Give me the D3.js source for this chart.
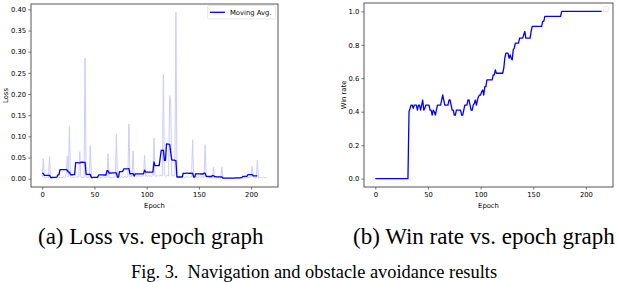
<!DOCTYPE html>
<html><head><meta charset="utf-8">
<script src="https://cdn.jsdelivr.net/npm/d3@7"></script>
<style>
html,body{margin:0;padding:0;background:#fff;}
svg{display:block;}
.tick text{font-family:"DejaVu Sans";font-size:6.8px;fill:#000;}
</style></head>
<body><svg id="c" width="618" height="282"></svg>
<script>
// ---------- data ----------
const lossEpochs = d3.range(216);
const lossValues = [
0.004,0.047,0.003,0.002,0.004,0.003,0.002,0.053,0.003,0.002,
0.003,0.002,0.004,0.003,0.002,0.003,0.004,0.002,0.003,0.002,
0.004,0.003,0.005,0.012,0.053,0.004,0.123,0.006,0.002,0.003,
0.003,0.002,0.004,0.003,0.005,0.004,0.064,0.003,0.002,0.004,
0.003,0.285,0.004,0.003,0.002,0.004,0.078,0.003,0.002,0.003,
0.002,0.003,0.004,0.002,0.003,0.004,0.002,0.003,0.005,0.003,
0.004,0.003,0.002,0.059,0.003,0.004,0.002,0.003,0.004,0.003,
0.004,0.105,0.003,0.002,0.004,0.003,0.005,0.004,0.003,0.006,
0.004,0.003,0.005,0.129,0.004,0.006,0.005,0.065,0.004,0.006,
0.007,0.005,0.008,0.006,0.005,0.007,0.006,0.008,0.055,0.006,
0.007,0.005,0.008,0.006,0.007,0.005,0.008,0.096,0.006,0.007,
0.005,0.008,0.006,0.007,0.009,0.006,0.246,0.008,0.006,0.007,
0.009,0.006,0.196,0.180,0.007,0.008,0.006,0.009,0.393,0.005,
0.004,0.003,0.005,0.004,0.003,0.005,0.004,0.003,0.004,0.005,
0.004,0.003,0.005,0.004,0.092,0.003,0.004,0.005,0.004,0.003,
0.005,0.004,0.003,0.005,0.004,0.003,0.080,0.004,0.003,0.004,
0.003,0.002,0.004,0.003,0.027,0.002,0.003,0.002,0.003,0.002,
0.003,0.002,0.027,0.002,0.001,0.002,0.001,0.002,0.001,0.002,
0.001,0.002,0.001,0.002,0.001,0.002,0.001,0.002,0.001,0.002,
0.001,0.002,0.001,0.002,0.003,0.002,0.003,0.002,0.003,0.004,
0.003,0.029,0.004,0.003,0.002,0.003,0.044,0.002,0.003,0.002,
0.003,0.002,0.004,0.002,0.003,0.002];
const movingWindow = 10;
const lossYTicks = [0.00,0.05,0.10,0.15,0.20,0.25,0.30,0.35,0.40];
const epochTicks = [0,50,100,150,200];

const winEpochs = d3.range(216);
const winValues = [
0,0,0,0,0,0,0,0,0,0, 0,0,0,0,0,0,0,0,0,0, 0,0,0,0,0,0,0,0,0,0, 0,0,
0.40,0.42,0.44,0.44,0.42,0.44,0.44,0.44,0.41,0.44,
0.44,0.41,0.44,0.47,0.41,0.42,0.44,0.44,0.44,0.44,
0.41,0.41,0.38,0.41,0.40,0.38,0.41,0.44,0.44,0.44,
0.44,0.47,0.50,0.47,0.44,0.44,0.44,0.44,0.47,0.47,
0.44,0.41,0.41,0.38,0.38,0.41,0.41,0.41,0.41,0.41,
0.38,0.38,0.41,0.44,0.44,0.44,0.47,0.47,0.44,0.41,
0.41,0.44,0.45,0.47,0.44,0.47,0.49,0.50,
0.50,0.52,0.53,0.50,0.55,0.55,0.59,0.59,0.59,0.59,
0.59,0.59,0.62,0.62,0.65,0.63,0.63,0.63,0.63,0.63,
0.63,0.63,0.66,0.72,0.75,0.75,0.75,0.72,0.74,0.72,
0.71,0.77,0.78,0.81,0.81,0.81,0.81,0.84,0.84,0.84,
0.84,0.86,0.88,0.84,0.84,0.84,0.84,0.84,0.88,0.91,
0.91,0.91,0.91,0.91,0.91,0.91,0.91,0.91,0.91,0.94,
0.94,0.97,0.97,0.97,0.97,0.97,0.97,0.97,0.97,0.97,
0.97,0.97,0.97,0.97,0.97,0.97,0.97,1.0,1.0,1.0,
1.0,1.0,1.0,1.0,1.0,1.0,1.0,1.0,1.0,1.0,
1.0,1.0,1.0,1.0,1.0,1.0,1.0,1.0,1.0,1.0,
1.0,1.0,1.0,1.0,1.0,1.0,1.0,1.0,1.0,1.0,
1.0,1.0,1.0,1.0,1.0,1.0,1.0,1.0,1.0];
const winYTicks = [0.0,0.2,0.4,0.6,0.8,1.0];
const legendLabels = ["Moving Avg."];
const captions = ["(a) Loss vs. epoch graph","(b) Win rate vs. epoch graph","Fig. 3.  Navigation and obstacle avoidance results"];

// ---------- drawing ----------
const svg = d3.select("#c");
const fontSans = "DejaVu Sans";

function pad(ext){const r=ext[1]-ext[0];return [ext[0]-0.05*r, ext[1]+0.05*r];}

function drawAxes(g, x, y, xTicks, yTicks, yFmt, box){
  g.append("g").attr("transform",`translate(0,${box.b})`)
    .call(d3.axisBottom(x).tickValues(xTicks).tickSize(2.6).tickPadding(2.2).tickFormat(d3.format("d")))
    .call(a=>a.select(".domain").remove())
    .call(a=>a.selectAll("line").attr("stroke","#222").attr("stroke-width",0.6));
  g.append("g").attr("transform",`translate(${box.l},0)`)
    .call(d3.axisLeft(y).tickValues(yTicks).tickSize(2.6).tickPadding(2.2).tickFormat(d3.format(yFmt)))
    .call(a=>a.select(".domain").remove())
    .call(a=>a.selectAll("line").attr("stroke","#222").attr("stroke-width",0.6));
  g.append("rect").attr("x",box.l).attr("y",box.t).attr("width",box.r-box.l).attr("height",box.b-box.t)
    .attr("fill","none").attr("stroke","#444").attr("stroke-width",0.9);
}

// Left: loss
{
  const box={l:31,r:278,t:4,b:187};
  const x=d3.scaleLinear().domain(pad([0,215])).range([box.l,box.r]);
  const y=d3.scaleLinear().domain(pad([0,d3.max(lossValues)])).range([box.b,box.t]);
  const g=svg.append("g");
  svg.append("clipPath").attr("id","cl1").append("rect")
    .attr("x",box.l).attr("y",box.t).attr("width",box.r-box.l).attr("height",box.b-box.t);
  const line=d3.line().x(d=>x(d[0])).y(d=>y(d[1]));
  g.append("path").datum(lossEpochs.map((e,i)=>[e,lossValues[i]]))
    .attr("d",line).attr("fill","none").attr("stroke","#ccccff").attr("stroke-width",1).attr("clip-path","url(#cl1)");
  const ma=[];
  for(let i=0;i+movingWindow<=lossValues.length;i++){
    ma.push([lossEpochs[i], d3.mean(lossValues.slice(i,i+movingWindow))]);
  }
  g.append("path").datum(ma).attr("d",line).attr("fill","none").attr("stroke","#0000ff").attr("stroke-width",1.3)
    .attr("stroke-linejoin","round");
  drawAxes(g,x,y,epochTicks,lossYTicks,".2f",box);
  g.append("text").attr("x",(box.l+box.r)/2).attr("y",208).attr("text-anchor","middle")
    .attr("font-family",fontSans).attr("font-size",6.8).text("Epoch");
  g.append("text").attr("transform",`translate(7.5,${(box.t+box.b)/2}) rotate(-90)`).attr("text-anchor","middle")
    .attr("font-family",fontSans).attr("font-size",6.8).text("Loss");
  // legend
  const lg=g.append("g");
  lg.append("rect").attr("x",207.5).attr("y",5.5).attr("width",68).attr("height",13.5).attr("rx",1.5)
    .attr("fill","#fff").attr("fill-opacity",0.8).attr("stroke","#d9d9d9").attr("stroke-width",0.6);
  lg.append("line").attr("x1",210).attr("x2",225).attr("y1",12.3).attr("y2",12.3).attr("stroke","#0000ff").attr("stroke-width",1.3);
  lg.append("text").attr("x",230).attr("y",14.6).attr("font-family",fontSans).attr("font-size",6.8).text(legendLabels[0]);
}

// Right: win rate
{
  const box={l:364,r:613,t:3,b:187};
  const x=d3.scaleLinear().domain(pad([0,215])).range([box.l,box.r]);
  const y=d3.scaleLinear().domain(pad([0,1])).range([box.b,box.t]);
  const g=svg.append("g");
  const line=d3.line().x(d=>x(d[0])).y(d=>y(d[1]));
  g.append("path").datum(winEpochs.map((e,i)=>[e,winValues[i]]))
    .attr("d",line).attr("fill","none").attr("stroke","#0000ff").attr("stroke-width",1.3).attr("stroke-linejoin","round");
  drawAxes(g,x,y,epochTicks,winYTicks,".1f",box);
  g.append("text").attr("x",(box.l+box.r)/2).attr("y",208).attr("text-anchor","middle")
    .attr("font-family",fontSans).attr("font-size",6.8).text("Epoch");
  g.append("text").attr("transform",`translate(346,${(box.t+box.b)/2}) rotate(-90)`).attr("text-anchor","middle")
    .attr("font-family",fontSans).attr("font-size",6.8).text("Win rate");
  g.append("rect").attr("x",603.3).attr("y",6.7).attr("width",5).attr("height",5).attr("rx",0.8)
    .attr("fill","#fff").attr("stroke","#d9d9d9").attr("stroke-width",0.6);
}

// captions
svg.append("text").attr("x",38).attr("y",244).attr("font-family","Liberation Serif").attr("font-size",23).text(captions[0]);
svg.append("text").attr("x",353).attr("y",244).attr("font-family","Liberation Serif").attr("font-size",23).text(captions[1]);
svg.append("text").attr("x",314).attr("y",278).attr("text-anchor","middle").attr("font-family","Liberation Serif")
  .attr("font-size",18.4).style("white-space","pre").text(captions[2]);
</script></body></html>
